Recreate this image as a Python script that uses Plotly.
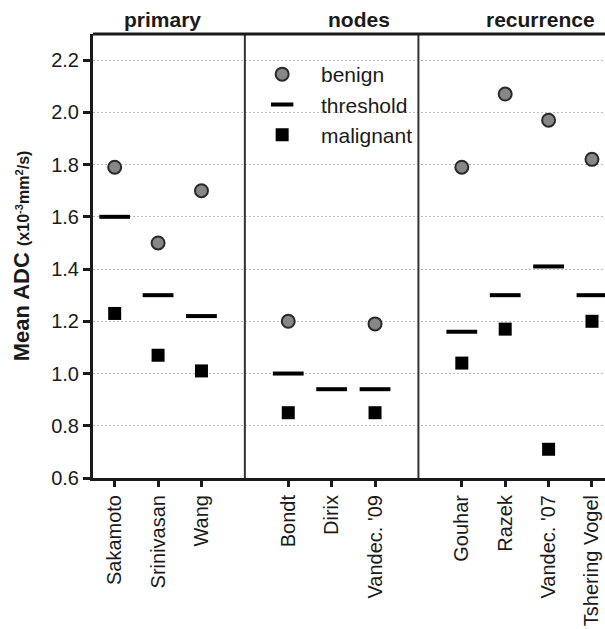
import plotly.graph_objects as go

# ---- data ----
group_names = ["primary", "nodes", "recurrence"]
primary_studies = ["Sakamoto", "Srinivasan", "Wang"]
nodes_studies = ["Bondt", "Dirix", "Vandec. '09"]
recurrence_studies = ["Gouhar", "Razek", "Vandec. '07", "Tshering Vogel"]

benign = [1.79, 1.50, 1.70, 1.20, None, 1.19, 1.79, 2.07, 1.97, 1.82]
threshold = [1.60, 1.30, 1.22, 1.00, 0.94, 0.94, 1.16, 1.30, 1.41, 1.30]
malignant = [1.23, 1.07, 1.01, 0.85, None, 0.85, 1.04, 1.17, 0.71, 1.20]

y_ticks = [0.6, 0.8, 1.0, 1.2, 1.4, 1.6, 1.8, 2.0, 2.2]

# ---- category positions (one empty slot between groups) ----
groups = [primary_studies, nodes_studies, recurrence_studies]
labels, xpos, separators = [], [], []
pos = 0
for gi, g in enumerate(groups):
    for s in g:
        labels.append(s)
        xpos.append(pos)
        pos += 1
    if gi < len(groups) - 1:
        separators.append(pos)
        pos += 1

FONT = "Liberation Sans, Arial, sans-serif"
INK = "#1a1a1a"
NB = "\u00a0"

fig = go.Figure()
fig.add_trace(go.Scatter(
    x=xpos, y=benign, mode="markers", name=NB + "benign",
    marker=dict(symbol="circle", size=13, color="#878787",
                line=dict(color="#2a2a2a", width=2)),
))
fig.add_trace(go.Scatter(
    x=xpos, y=threshold, mode="markers", name=NB + "threshold",
    marker=dict(symbol="line-ew", size=22, color="black",
                line=dict(color="black", width=4)),
))
fig.add_trace(go.Scatter(
    x=xpos, y=malignant, mode="markers", name=NB + "malignant",
    marker=dict(symbol="square", size=13, color="black",
                line=dict(color="black", width=0)),
))

shapes = []
for sp in separators:
    shapes.append(dict(type="line", xref="x", yref="paper", x0=sp, x1=sp,
                       y0=0, y1=1, line=dict(color="#333333", width=2)))
shapes.append(dict(type="line", xref="paper", yref="paper", x0=0, x1=1,
                   y0=1, y1=1, line=dict(color=INK, width=3)))

header_x = [1.1, 5.63, 9.82]
annotations = []
for name, hx in zip(group_names, header_x):
    annotations.append(dict(text="<b>" + name + "</b>", x=hx, xref="x",
                            y=1.032, yref="paper", showarrow=False,
                            xanchor="center", yanchor="middle",
                            font=dict(family=FONT, size=21, color=INK)))
annotations.append(dict(
    text="<b>Mean ADC</b> <b><span style='font-size:16px'>(x10<sup>-3</sup>mm<sup>2</sup>/s)</span></b>",
    x=-0.14, xref="paper", y=0.5, yref="paper", textangle=-90,
    showarrow=False, xanchor="center", yanchor="middle",
    font=dict(family=FONT, size=22, color=INK)))

fig.update_layout(
    width=605, height=629,
    margin=dict(l=93, r=0, t=34, b=151, autoexpand=False),
    plot_bgcolor="white", paper_bgcolor="white",
    font=dict(family=FONT, color=INK),
    shapes=shapes, annotations=annotations,
    showlegend=True,
    legend=dict(x=0.305, y=0.955, xanchor="left", yanchor="top",
                bgcolor="rgba(0,0,0,0)", font=dict(family=FONT, size=21, color=INK),
                itemwidth=56, tracegroupgap=0),
)
fig.update_xaxes(
    range=[-0.5, 11.3], tickmode="array", tickvals=xpos, ticktext=labels,
    tickangle=-90, tickfont=dict(family=FONT, size=20, color=INK),
    ticks="outside", ticklen=6, tickwidth=3, tickcolor=INK, automargin=False,
    showline=True, linecolor=INK, linewidth=3, showgrid=False, zeroline=False,
)
fig.update_yaxes(
    range=[0.6, 2.3], tickmode="array", tickvals=y_ticks,
    ticktext=[f"{v:.1f}" for v in y_ticks],
    tickfont=dict(family=FONT, size=20, color=INK), automargin=False,
    ticks="outside", ticklen=7, tickwidth=3, tickcolor=INK,
    showline=True, linecolor=INK, linewidth=3,
    showgrid=True, gridcolor="#bdbdbd", gridwidth=1, griddash="2px,2px",
    zeroline=False,
)

fig.write_html("out.html", config={"displayModeBar": False},
               post_script="document.body.style.margin='0';")
